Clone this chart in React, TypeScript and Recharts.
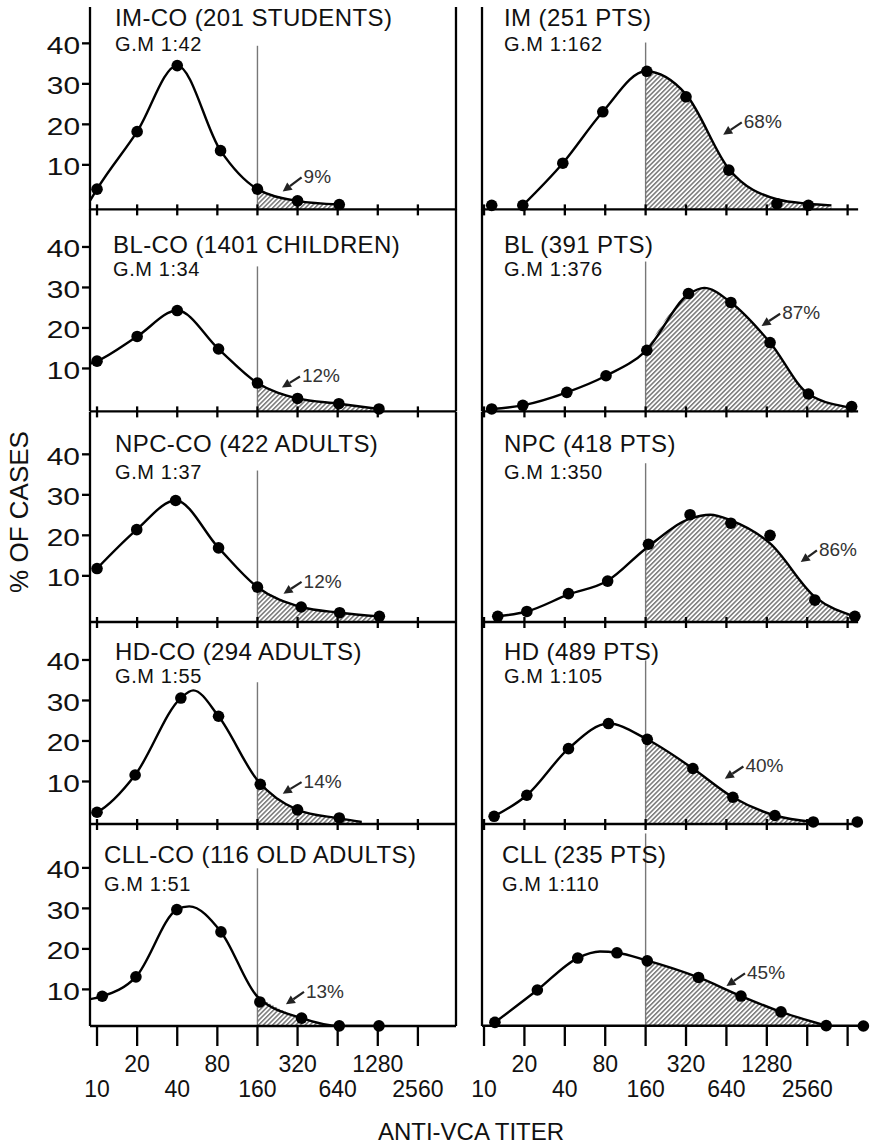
import { ComposedChart, Area, Line, Scatter, XAxis, YAxis, ReferenceLine } from "recharts";

const FONT = "'Liberation Sans', Arial, Helvetica, sans-serif";

// x values are titer steps: 0 = 1:10, 1 = 1:20, ... 8 = 1:2560 (log2 scale)
const TITERS = ["10", "20", "40", "80", "160", "320", "640", "1280", "2560"];
const CUTOFF_STEP = 4; // 1:160
const Y_TICKS = [10, 20, 30, 40];

const TITLES = [
  "IM-CO (201 STUDENTS)",
  "IM (251 PTS)",
  "BL-CO (1401 CHILDREN)",
  "BL (391 PTS)",
  "NPC-CO (422 ADULTS)",
  "NPC (418 PTS)",
  "HD-CO (294 ADULTS)",
  "HD (489 PTS)",
  "CLL-CO (116 OLD ADULTS)",
  "CLL (235 PTS)",
];
const GEO_MEANS = [
  "G.M 1:42",
  "G.M 1:162",
  "G.M 1:34",
  "G.M 1:376",
  "G.M 1:37",
  "G.M 1:350",
  "G.M 1:55",
  "G.M 1:105",
  "G.M 1:51",
  "G.M 1:110",
];
const PERCENTS = ["9%", "68%", "12%", "87%", "12%", "86%", "14%", "40%", "13%", "45%"];

// [titer step, % of cases]
const IM_CO_DOTS = [[0, 4.0], [1, 18.2], [2, 34.5], [3.08, 13.5], [4, 4.0], [5, 1.1], [6.04, 0.2]];
const IM_CO_CURVE = [[-0.17, 1.2], [0, 4.0], [1, 18.2], [2, 34.5], [3.08, 13.5], [4, 4.0], [5, 1.1], [6.04, 0.2]];

const IM_DOTS = [[0.19, 0], [0.96, 0], [1.95, 10.4], [2.94, 23.1], [4.03, 33.1], [5.0, 26.8], [6.06, 8.7], [7.25, 0.4], [8.03, 0]];
const IM_CURVE = [[0.96, 0], [1.95, 10.4], [2.94, 23.1], [4.0, 33.1], [5.0, 27.4], [6.06, 9.0], [7.25, 1.5], [8.03, 0.4], [8.6, 0]];

const BL_CO_DOTS = [[0, 11.8], [1, 17.9], [2, 24.3], [3.03, 14.8], [4, 6.4], [5, 2.6], [6.03, 1.3], [7.03, 0]];
const BL_CO_CURVE = [[-0.15, 11.2], [0, 11.8], [1, 17.9], [2, 24.3], [3.03, 14.8], [4, 6.4], [5, 2.6], [6.03, 1.3], [7.03, 0]];

const BL_DOTS = [[0.19, 0], [0.96, 0.9], [2.05, 4.1], [3.02, 8.2], [4.03, 14.5], [5.06, 28.5], [6.11, 26.3], [7.08, 16.4], [8.03, 3.7], [9.1, 0.6]];
const BL_CURVE = [[0.19, 0], [0.96, 0.9], [2.05, 4.1], [3.02, 8.2], [4.0, 14.3], [5.06, 28.3], [5.45, 29.9], [6.11, 26.3], [7.08, 16.4], [8.03, 3.7], [9.1, 0.3]];

const NPC_CO_DOTS = [[0, 11.8], [0.99, 21.4], [1.96, 28.6], [3.03, 16.9], [4.0, 7.2], [5.09, 2.3], [6.05, 0.9], [7.04, 0]];
const NPC_CO_CURVE = [[0, 11.8], [0.99, 21.4], [1.96, 28.6], [3.03, 16.9], [4.0, 7.2], [5.09, 2.3], [6.05, 0.9], [7.04, 0]];

const NPC_DOTS = [[0.34, 0], [1.06, 1.2], [2.09, 5.6], [3.06, 8.7], [4.07, 17.8], [5.1, 25.1], [6.11, 23.0], [7.08, 20.0], [8.19, 4.0], [9.18, 0]];
const NPC_CURVE = [[0.34, 0], [1.06, 1.2], [2.09, 5.4], [3.06, 8.8], [4.0, 16.7], [5.1, 24.1], [5.6, 25.1], [6.11, 23.7], [7.08, 18.0], [8.19, 4.8], [9.18, 0]];

const HD_CO_DOTS = [[0, 2.4], [0.95, 11.6], [2.09, 30.6], [3.03, 26.1], [4.07, 9.3], [5.0, 3.0], [6.04, 1.0]];
const HD_CO_CURVE = [[-0.13, 1.8], [0, 2.4], [0.95, 11.6], [2.09, 30.6], [2.4, 32.5], [3.03, 26.1], [4.0, 10.3], [5.0, 3.0], [6.04, 0.9], [6.6, 0]];

const HD_DOTS = [[0.25, 1.4], [1.06, 6.6], [2.09, 18.1], [3.08, 24.3], [4.04, 20.4], [5.17, 13.2], [6.16, 6.1], [7.2, 1.6], [8.15, 0], [9.24, 0]];
const HD_CURVE = [[0.25, 1.4], [1.06, 6.6], [2.09, 18.1], [3.08, 24.3], [4.0, 20.6], [5.17, 13.2], [6.16, 6.1], [7.2, 1.6], [8.15, 0]];

const CLL_CO_DOTS = [[0.13, 8.3], [0.97, 13.1], [1.99, 29.7], [3.09, 24.2], [4.06, 6.9], [5.1, 2.9], [6.04, 1.0], [7.03, 1.0]];
const CLL_CO_CURVE = [[-0.17, 7.6], [0.13, 8.3], [0.97, 13.1], [1.99, 29.7], [2.3, 30.5], [3.09, 24.2], [4.0, 8.2], [5.1, 2.9], [6.04, 1.0], [7.03, 1.0]];

const CLL_DOTS = [[0.27, 1.8], [1.32, 9.8], [2.32, 17.7], [3.29, 19.0], [4.04, 17.0], [5.31, 12.9], [6.36, 8.3], [7.35, 4.4], [8.47, 1.0], [9.39, 0.9]];
const CLL_CURVE = [[0.27, 1.8], [1.32, 9.8], [2.32, 17.7], [2.87, 19.3], [3.29, 19.0], [4.0, 17.2], [5.31, 12.9], [6.36, 8.3], [7.35, 4.4], [8.47, 1.0]];

const DOTS = [IM_CO_DOTS, IM_DOTS, BL_CO_DOTS, BL_DOTS, NPC_CO_DOTS, NPC_DOTS, HD_CO_DOTS, HD_DOTS, CLL_CO_DOTS, CLL_DOTS];
const CURVES = [IM_CO_CURVE, IM_CURVE, BL_CO_CURVE, BL_CURVE, NPC_CO_CURVE, NPC_CURVE, HD_CO_CURVE, HD_CURVE, CLL_CO_CURVE, CLL_CURVE];

// how high the 1:160 cut-off line is drawn in each panel (% units)
const CUT_TOPS = [39.4, 40.2, 35.2, 36.4, 36.0, 37.8, 34.5, 39.9, 39.9, 48.5];

// percentage arrows: [tail, head] in [step, %]
const ARROWS = [
  [[5.1, 6.9], [4.63, 3.4]],
  [[6.38, 20.5], [5.92, 17.4]],
  [[5.06, 8.0], [4.61, 5.3]],
  [[7.33, 23.5], [6.87, 20.5]],
  [[5.1, 8.5], [4.65, 5.6]],
  [[8.24, 16.3], [7.84, 13.4]],
  [[5.1, 9.85], [4.63, 7.0]],
  [[6.42, 13.7], [5.96, 10.7]],
  [[5.16, 9.4], [4.71, 6.3]],
  [[6.46, 13.9], [6.0, 10.8]],
];

// layout
const PX_PER_PCT = 4.05;
const ROW_TOP = [6.9, 209.3, 411.7, 621.7, 823.7];
const ROW_AXIS = [209.3, 411.7, 621.7, 823.7, 1025.7];
const ROW_YMIN = [-1.0, -0.6, -1.4, -0.5, 0.96];
const TITLE_BASE = [26.3, 252.5, 451.7, 659.5, 862.5];
const GM_BASE = [50.8, 276, 479, 683, 890.5];
const TITLE_X = [[115, 504], [113, 504], [115, 504], [115, 504], [104, 502]];

const COLS = [
  { left: 0, width: 470, axisW: 90, plotRight: 456, domain: [-0.175, 8.95], axisEnd: 8.95, ticks: [0, 1, 2, 3, 4, 5, 6, 7, 8] },
  { left: 400, width: 471, axisW: 82, plotRight: 865.8, domain: [-0.05, 9.45], axisEnd: 9.26, ticks: [0, 1, 2, 3, 4, 5, 6, 7, 8, 9] },
];

const AXIS_STYLE = { stroke: "#000", strokeWidth: 2.3 };

const TiterTick = ({ x, y, payload, bottom }: any) => {
  const label = TITERS[payload.value];
  return (
    <g>
      <line
        x1={x}
        x2={x}
        y1={bottom ? y : y - 5}
        y2={bottom ? y + 20 : y + 6}
        stroke="#000"
        strokeWidth={2.3}
      />
      {bottom && label && (
        <text
          x={x}
          y={y + (payload.value % 2 ? 46 : 71)}
          textAnchor="middle"
          fontSize={23}
          fontFamily={FONT}
          fill="#111"
        >
          {label}
        </text>
      )}
    </g>
  );
};

const PctTick = ({ x, y, payload }: any) => (
  <g transform={`translate(${x},${y + 2})`}>
    <text transform="scale(1.3,1)" textAnchor="end" dy="0.36em" fontSize={23} fontFamily={FONT} fill="#111">
      {payload.value}
    </text>
  </g>
);

const arrowShape = (label: string) => (props: any) => {
  const { x1, y1, x2, y2 } = props;
  const dx = x2 - x1;
  const dy = y2 - y1;
  const len = Math.hypot(dx, dy) || 1;
  const ux = dx / len;
  const uy = dy / len;
  const bx = x2 - ux * 9;
  const by = y2 - uy * 9;
  return (
    <g>
      <line x1={x1} y1={y1} x2={bx} y2={by} stroke="#222" strokeWidth={2.2} />
      <polygon
        points={`${x2},${y2} ${bx - uy * 4.5},${by + ux * 4.5} ${bx + uy * 4.5},${by - ux * 4.5}`}
        fill="#222"
      />
      <text x={x1 + 2} y={y1} dy="0.3em" fontSize={19} fontFamily={FONT} fill="#333">
        {label}
      </text>
    </g>
  );
};

const dotShape = (props: any) => <circle cx={props.cx} cy={props.cy} r={5.8} fill="#000" />;

function Panel({ index }: { index: number }) {
  const row = Math.floor(index / 2);
  const col = index % 2;
  const c = COLS[col];
  const bottom = row === ROW_TOP.length - 1;
  const plotH = ROW_AXIS[row] - ROW_TOP[row];
  const axisH = bottom ? 84 : 10;
  const yMin = ROW_YMIN[row];
  const yMax = yMin + plotH / PX_PER_PCT;
  const toPts = (arr: number[][]) => arr.map(([s, v]) => ({ s, v }));
  const dots = toPts(DOTS[index]);
  const curve = toPts(CURVES[index]);
  const shaded = curve.filter((d) => d.s >= CUTOFF_STEP);
  const [tail, head] = ARROWS[index];
  const hatchId = `hatch-${index}`;

  return (
    <div style={{ position: "absolute", left: c.left, top: ROW_TOP[row] }}>
      <ComposedChart
        width={c.width}
        height={plotH + axisH}
        margin={{ top: 0, left: 0, bottom: 0, right: c.left + c.width - c.plotRight }}
      >
        <defs>
          <pattern id={hatchId} patternUnits="userSpaceOnUse" width={3.3} height={3.3} patternTransform="rotate(45)">
            <line x1={1.6} y1={0} x2={1.6} y2={3.3} stroke="#444" strokeWidth={1.1} />
          </pattern>
        </defs>
        <XAxis
          type="number"
          dataKey="s"
          domain={c.domain}
          ticks={c.ticks}
          interval={0}
          height={axisH}
          axisLine={false}
          tickLine={false}
          tickSize={0}
          tickMargin={0}
          tick={(p: any) => <TiterTick {...p} bottom={bottom} />}
        />
        {col === 0 ? (
          <YAxis
            type="number"
            dataKey="v"
            domain={[yMin, yMax]}
            ticks={Y_TICKS}
            width={c.axisW}
            tickSize={8}
            tickMargin={2}
            axisLine={AXIS_STYLE}
            tickLine={AXIS_STYLE}
            tick={PctTick}
          />
        ) : (
          <YAxis
            type="number"
            dataKey="v"
            domain={[yMin, yMax]}
            ticks={Y_TICKS}
            width={c.axisW}
            axisLine={AXIS_STYLE}
            tickLine={false}
            tick={false}
          />
        )}
        {col === 0 && (
          <YAxis
            yAxisId="frame"
            type="number"
            orientation="right"
            mirror
            domain={[yMin, yMax]}
            ticks={Y_TICKS}
            tickSize={10}
            axisLine={AXIS_STYLE}
            tickLine={AXIS_STYLE}
            tick={() => <g />}
          />
        )}
        <Area
          data={shaded}
          dataKey="v"
          type="monotone"
          stroke="none"
          fill={`url(#${hatchId})`}
          fillOpacity={1}
          baseValue={yMin}
          isAnimationActive={false}
        />
        <ReferenceLine
          segment={[{ x: CUTOFF_STEP, y: yMin }, { x: CUTOFF_STEP, y: CUT_TOPS[index] }]}
          stroke="#777"
          strokeWidth={1.4}
        />
        <Line
          data={curve}
          dataKey="v"
          type="monotone"
          stroke="#000"
          strokeWidth={2.4}
          dot={false}
          activeDot={false}
          isAnimationActive={false}
        />
        <Scatter data={dots} dataKey="v" shape={dotShape} isAnimationActive={false} />
        <ReferenceLine
          segment={[{ x: c.domain[0], y: yMin }, { x: c.axisEnd, y: yMin }]}
          stroke="#000"
          strokeWidth={2.3}
        />
        <ReferenceLine
          segment={[{ x: tail[0], y: tail[1] }, { x: head[0], y: head[1] }]}
          shape={arrowShape(PERCENTS[index])}
        />
      </ComposedChart>
    </div>
  );
}

export default function App() {
  return (
    <div
      style={{
        position: "absolute",
        left: 0,
        top: 0,
        width: 871,
        height: 1147,
        background: "#fff",
        overflow: "hidden",
        fontFamily: FONT,
      }}
    >
      {TITLES.map((_, i) => (
        <Panel key={i} index={i} />
      ))}
      <svg width={871} height={1147} style={{ position: "absolute", left: 0, top: 0, pointerEvents: "none" }}>
        {TITLES.map((t, i) => {
          const row = Math.floor(i / 2);
          const col = i % 2;
          return (
            <g key={i} fontFamily={FONT} fill="#111">
              <text x={TITLE_X[row][col]} y={TITLE_BASE[row]} fontSize={24} letterSpacing={0.4}>
                {t}
              </text>
              <text x={TITLE_X[row][col]} y={GM_BASE[row]} fontSize={20} letterSpacing={0.6}>
                {GEO_MEANS[i]}
              </text>
            </g>
          );
        })}
        <text transform="translate(28,512) rotate(-90)" textAnchor="middle" fontSize={26} fontFamily={FONT} fill="#111">
          % OF CASES
        </text>
        <text x={471} y={1140} textAnchor="middle" fontSize={24} fontFamily={FONT} fill="#111">
          ANTI-VCA TITER
        </text>
      </svg>
    </div>
  );
}
